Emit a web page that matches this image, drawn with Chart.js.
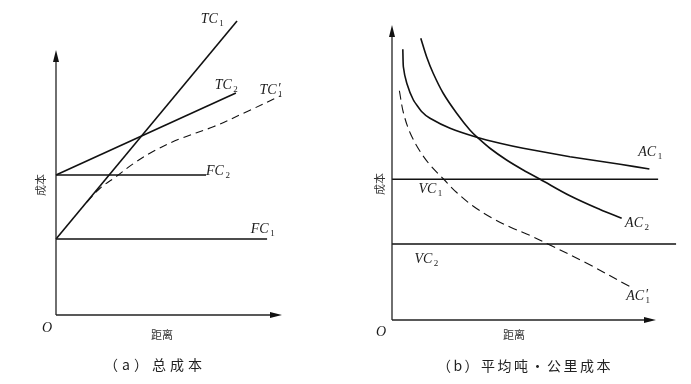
<!DOCTYPE html>
<html>
<head>
<meta charset="utf-8">
<script src="https://cdn.jsdelivr.net/npm/chart.js@4"></script>
<style>
  html,body{margin:0;padding:0;background:#fff;}
  #wrap{position:relative;width:691px;height:384px;}
  canvas{position:absolute;top:0;}
  #c1{left:0;} #c2{left:346px;}
</style>
</head>
<body>
<div id="wrap">
  <canvas id="c1" width="345" height="384"></canvas>
  <canvas id="c2" width="345" height="384"></canvas>
</div>
<script>
// ---------- Data: (a) 总成本 ----------
const fc1X = [0, 9.34],  fc1Y = [3.04, 3.04];
const fc2X = [0, 6.64],  fc2Y = [5.6, 5.6];
const tc1X = [0, 8.01],  tc1Y = [3.04, 11.76];
const tc2X = [0, 7.96],  tc2Y = [5.6, 8.88];
const tc1pX = [1.37, 1.95, 2.68, 3.42, 4.31, 5.49, 6.96, 8.44, 9.91];
const tc1pY = [4.52, 5.07, 5.55, 6.05, 6.55, 7.05, 7.53, 8.13, 8.76];

// ---------- Data: (b) 平均吨·公里成本 ----------
const vc1X = [0, 10.08], vc1Y = [5.63, 5.63];
const vc2X = [0, 10.76], vc2Y = [3.04, 3.04];
const ac1X = [0.41, 0.43, 0.56, 0.81, 1.13, 1.44, 2.20, 3.21, 4.09, 4.97, 6.74, 8.64, 9.75];
const ac1Y = [10.83, 10.13, 9.47, 8.8, 8.33, 8.07, 7.67, 7.31, 7.07, 6.87, 6.53, 6.23, 6.04];
const ac2X = [1.09, 1.31, 1.56, 1.94, 2.45, 2.95, 3.27, 3.71, 4.34, 4.97, 5.61, 6.74, 7.88, 8.70];
const ac2Y = [11.27, 10.53, 9.87, 9.07, 8.27, 7.6, 7.27, 6.87, 6.4, 6.0, 5.63, 4.97, 4.42, 4.07];
const ac1pX = [0.28, 0.43, 0.68, 1.06, 1.44, 1.94, 2.45, 3.08, 3.84, 4.47, 5.23, 5.98, 7.38, 9.02];
const ac1pY = [9.17, 8.3, 7.5, 6.75, 6.2, 5.65, 5.1, 4.55, 4.05, 3.72, 3.38, 3.0, 2.27, 1.33];

// ---------- Curve labels (main, subscript, prime, anchor in data units) ----------
const labelsA = [
  ['TC', '1', false, 6.40, 11.68],
  ['TC', '2', false, 7.02, 9.04],
  ['TC', '1', true,  9.0, 8.84],
  ['FC', '2', false, 6.64, 5.6],
  ['FC', '1', false, 8.62, 3.28]
];
const labelsB = [
  ['AC', '1', false, 9.33, 6.56],
  ['AC', '2', false, 8.83, 3.72],
  ['AC', '1', true,  8.87, 0.8],
  ['VC', '1', false, 1.0, 5.08],
  ['VC', '2', false, 0.85, 2.28]
];

const zip = (xs, ys) => xs.map((x, i) => ({x, y: ys[i]}));
const INK = '#111';

function ds(xs, ys, opt) {
  return Object.assign({
    data: zip(xs, ys), showLine: true, pointRadius: 0, borderColor: INK,
    borderWidth: 1.6, fill: false, clip: false, tension: 0.35
  }, opt || {});
}

function drawSym(ctx, main, sub, prime, px, py) {
  ctx.fillStyle = '#1a1a1a';
  ctx.textAlign = 'left';
  ctx.textBaseline = 'alphabetic';
  ctx.font = 'italic 14px "Liberation Serif", "DejaVu Serif", serif';
  ctx.fillText(main, px, py);
  const w = ctx.measureText(main).width;
  if (prime) ctx.fillText('\u2032', px + w + 1, py - 1);
  ctx.font = '9px "Liberation Serif", "DejaVu Serif", serif';
  ctx.fillText(sub, px + w + 1.5, py + 3);
}

const decor = {
  id: 'decor',
  afterDatasetsDraw(chart, args, o) {
    const ctx = chart.ctx, xs = chart.scales.x, ys = chart.scales.y;
    const x0 = xs.getPixelForValue(0), y0 = ys.getPixelForValue(0);
    const xe = xs.getPixelForValue(o.axisX), ye = ys.getPixelForValue(o.axisY);
    ctx.save();
    // axes
    ctx.strokeStyle = '#222'; ctx.lineWidth = 1.3;
    ctx.beginPath(); ctx.moveTo(x0, y0); ctx.lineTo(x0, ye + 8); ctx.stroke();
    ctx.beginPath(); ctx.moveTo(x0, y0); ctx.lineTo(xe - 8, y0); ctx.stroke();
    ctx.fillStyle = '#111';
    ctx.beginPath(); ctx.moveTo(x0, ye); ctx.lineTo(x0 - 3, ye + 12); ctx.lineTo(x0 + 3, ye + 12); ctx.closePath(); ctx.fill();
    ctx.beginPath(); ctx.moveTo(xe, y0); ctx.lineTo(xe - 12, y0 - 3); ctx.lineTo(xe - 12, y0 + 3); ctx.closePath(); ctx.fill();
    // curve labels
    o.labels.forEach(l => drawSym(ctx, l[0], l[1], l[2], xs.getPixelForValue(l[3]), ys.getPixelForValue(l[4])));
    // origin
    ctx.fillStyle = '#1a1a1a';
    ctx.font = 'italic 14px "Liberation Serif", serif';
    ctx.textAlign = 'left';
    ctx.fillText('O', o.oPos[0], o.oPos[1]);
    // axis titles
    ctx.fillStyle = '#333';
    ctx.font = '11px "Noto Sans CJK SC", sans-serif';
    ctx.textAlign = 'center'; ctx.textBaseline = 'middle';
    ctx.fillText('距离', o.xt[0], o.xt[1]);
    ctx.save();
    ctx.translate(o.yt[0], o.yt[1]); ctx.rotate(-Math.PI / 2);
    ctx.fillText('成本', 0, 0);
    ctx.restore();
    // caption
    ctx.font = '14px "Noto Sans CJK SC", sans-serif';
    ctx.fillStyle = '#222';
    try { ctx.letterSpacing = o.cap[3] + 'px'; } catch (e) {}
    ctx.fillText(o.cap[0], o.cap[1], o.cap[2]);
    ctx.restore();
  }
};

function makeChart(id, datasets, pad, xMax, yMax, plug) {
  return new Chart(document.getElementById(id), {
    type: 'scatter',
    data: { datasets },
    options: {
      responsive: false, animation: false, events: [],
      layout: { padding: pad },
      scales: {
        x: { type: 'linear', min: 0, max: xMax, display: false },
        y: { type: 'linear', min: 0, max: yMax, display: false }
      },
      plugins: { legend: { display: false }, tooltip: { enabled: false }, decor: plug }
    },
    plugins: [decor]
  });
}

makeChart('c1', [
  ds(fc1X, fc1Y, {borderWidth: 1.3}),
  ds(fc2X, fc2Y, {borderWidth: 1.3}),
  ds(tc1X, tc1Y),
  ds(tc2X, tc2Y),
  ds(tc1pX, tc1pY, {borderWidth: 1.1, borderDash: [8, 5]})
], {left: 56, right: 63, top: 15, bottom: 69}, 10, 12, {
  axisX: 10, axisY: 10.6, labels: labelsA,
  oPos: [42, 332], xt: [162, 335], yt: [41, 185], cap: ['（a）总成本', 155, 365, 4]
});

makeChart('c2', [
  ds(vc1X, vc1Y, {borderWidth: 1.3}),
  ds(vc2X, vc2Y, {borderWidth: 1.3}),
  ds(ac1X, ac1Y, {tension: 0.15}),
  ds(ac2X, ac2Y),
  ds(ac1pX, ac1pY, {borderWidth: 1.1, borderDash: [9, 5]})
], {left: 46, right: 35, top: 20, bottom: 64}, 10, 12, {
  axisX: 10, axisY: 11.8, labels: labelsB,
  oPos: [30, 336], xt: [168, 335], yt: [34, 184], cap: ['（b）平均吨·公里成本', 179, 366, 2.5]
});
</script>
</body>
</html>
